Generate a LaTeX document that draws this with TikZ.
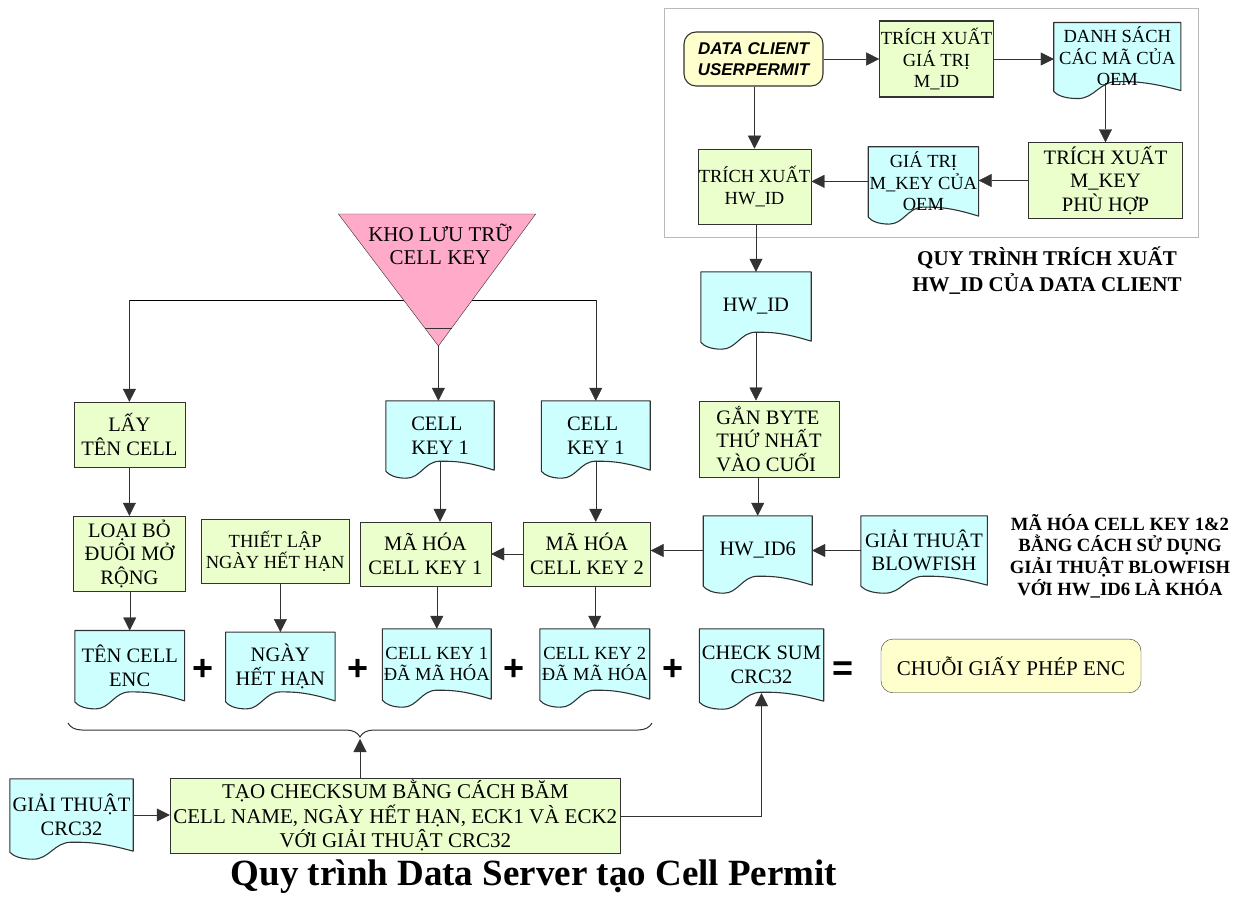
\documentclass[tikz,border=0pt]{standalone}
\usepackage{fontspec}
\setmainfont{Liberation Serif}
\newfontfamily\sansfam{Liberation Sans}
\usetikzlibrary{calc,arrows.meta,decorations.pathreplacing}

\definecolor{procfill}{RGB}{235,255,205}
\definecolor{docfill}{RGB}{205,255,255}
\definecolor{termfill}{RGB}{255,255,205}
\definecolor{storefill}{RGB}{255,170,200}
\definecolor{edge}{RGB}{50,50,50}

\pgfdeclarelayer{docs}
\pgfsetlayers{docs,main}

% document symbol: rectangle with a wavy lower edge, drawn behind the named node
\newcommand\docwave[1]{%
  \begin{pgfonlayer}{docs}
    \filldraw[draw=edge,fill=docfill,line width=1.1pt,line join=round]
      let \p1=(#1.north west), \p2=(#1.south east), \n1={\x2-\x1} in
      (\p1) -- (\x2,\y1) -- (\p2)
      .. controls ({\x1+0.74*\n1},{\y2+9pt}) and ({\x1+0.62*\n1},{\y2+9pt}) .. ({\x1+0.5*\n1},{\y2+9pt})
      .. controls ({\x1+0.36*\n1},{\y2+9pt}) and ({\x1+0.32*\n1},{\y2-8pt}) .. ({\x1+0.19*\n1},{\y2-8pt})
      .. controls ({\x1+0.09*\n1},{\y2-8pt}) and ({\x1+0.03*\n1},{\y2-5pt}) .. ({\x1},{\y2-1pt}) -- cycle;
  \end{pgfonlayer}}

\begin{document}
\begin{tikzpicture}[x=1pt,y=-1pt,line width=1.1pt,
  every node/.style={inner sep=1pt,align=center},
  tx/.style={font=\fontsize{20.5}{23.5}\selectfont},
  txs/.style={font=\fontsize{18.5}{21.5}\selectfont},
  arr/.style={draw=edge,-{Triangle[length=13pt,width=13pt]}},
  fromdoc/.style={shorten <=-8pt},
  todoc/.style={shorten >=-8pt},
  sized/.style 2 args={minimum width=#1,minimum height=#2},
  proc/.style={draw=edge,fill=procfill},
  docbox/.style={draw=none},
  term/.style={draw=edge,fill=termfill,rounded corners=12pt},
  opsign/.style={font=\sansfam\bfseries\fontsize{36}{36}\selectfont},
  heading/.style={font=\bfseries\fontsize{21}{26}\selectfont},
  notetext/.style={font=\bfseries\fontsize{18.7}{21.7}\selectfont}]

\useasboundingbox (0,0) rectangle (1237,910);

% ---------- client-side extraction group ----------
\draw[gray!55,line width=1pt] (664.5,8.3) rectangle (1198.7,237.7);

\node[term,sized={139}{54},font=\sansfam\bfseries\itshape\fontsize{17}{21.7}\selectfont]
  (dc) at (753.5,59) {DATA CLIENT\\USERPERMIT};
\node[proc,txs,sized={113}{76}] (txm) at (936.5,59) {TRÍCH XUẤT\\GIÁ TRỊ\\M\_ID};
\node[docbox,txs,sized={126}{67}] (dsm) at (1117.3,56.5) {DANH SÁCH\\CÁC MÃ CỦA\\OEM};
\docwave{dsm}
\node[proc,tx,sized={154}{76}] (txk) at (1105.5,180.5) {TRÍCH XUẤT\\M\_KEY\\PHÙ HỢP};
\node[docbox,txs,sized={110}{69}] (gtk) at (923.4,181.4) {GIÁ TRỊ\\M\_KEY CỦA\\OEM};
\docwave{gtk}
\node[proc,txs,sized={113}{75}] (txh) at (754.5,186.4) {TRÍCH XUẤT\\HW\_ID};

\node[heading] (cap) at (1047,271) {QUY TRÌNH TRÍCH XUẤT\\HW\_ID CỦA DATA CLIENT};

\draw[arr] (dc.east) -- (txm.west);
\draw[arr] (txm.east) -- (txm.east -| dsm.west);
\draw[arr,fromdoc] (dsm.south -| txk.north) -- (txk.north);
\draw[arr] (txh.north |- dc.south) -- (txh.north);
\draw[arr] (txk.west) -- (txk.west -| gtk.east);
\draw[arr] (gtk.west) -- (gtk.west -| txh.east);

% ---------- HW_ID preparation ----------
\node[docbox,tx,sized={110}{69}] (hwid) at (756,306.5) {HW\_ID};
\docwave{hwid}
\node[proc,tx,sized={140}{76},align=left] (gan) at (769,438.7) {GẮN BYTE\\THỨ NHẤT\\VÀO CUỐI};
\node[docbox,tx,sized={108.6}{69}] (hw6) at (757.7,550.5) {HW\_ID6};
\docwave{hw6}
\node[docbox,tx,sized={126}{69}] (bf) at (924.1,550.5) {GIẢI THUẬT\\BLOWFISH};
\docwave{bf}
\node[notetext] (note) at (1120,556)
  {MÃ HÓA CELL KEY 1\&2\\BẰNG CÁCH SỬ DỤNG\\GIẢI THUẬT BLOWFISH\\VỚI HW\_ID6 LÀ KHÓA};

\draw[arr] (hwid.north |- txh.south) -- (hwid.north);
\draw[arr,fromdoc] (hwid.south) -- (hwid.south |- gan.north);
\draw[arr] (hw6.north |- gan.south) -- (hw6.north);
\draw[arr] (bf.west) -- (bf.west -| hw6.east);

% ---------- cell key storage and encryption ----------
\coordinate (branch) at (438.4,300);
\coordinate (triapex) at (438.4,346);

\node[proc,tx,sized={111.3}{65.3}] (llay) at (129.4,434.7) {LẤY\\TÊN CELL};
\node[docbox,tx,sized={108}{69},align=left] (ck1) at (440,435.5) {CELL\\KEY 1};
\docwave{ck1}
\node[docbox,tx,sized={108.5}{69},align=left] (ck2) at (595.75,435.5) {CELL\\KEY 1};
\docwave{ck2}

\draw (llay.north |- branch) -- (ck2.north |- branch);
\draw[arr] (llay.north |- branch) -- (llay.north);
\draw[arr] (ck2.north |- branch) -- (ck2.north);

\filldraw[draw=edge,fill=storefill,line join=round] (338.4,214) -- (535.7,214) -- (triapex) -- cycle;
\draw[edge] (424.5,327.7) -- (451.9,327.7);
\node[tx,font=\fontsize{21}{23}\selectfont] (store) at (440,244.5) {KHO LƯU TRỮ\\CELL KEY};
\draw[arr] (triapex) -- (triapex |- ck1.north);

\node[proc,tx,sized={111.6}{75}] (lob) at (129.4,553.5) {LOẠI BỎ\\ĐUÔI MỞ\\RỘNG};
\node[proc,txs,sized={148.6}{64}] (tl) at (275.2,551.3) {THIẾT LẬP\\NGÀY HẾT HẠN};
\node[proc,tx,sized={131.2}{64}] (mk1) at (425.4,554) {MÃ HÓA\\CELL KEY 1};
\node[proc,tx,sized={126.8}{64}] (mk2) at (587,554) {MÃ HÓA\\CELL KEY 2};

\draw[arr] (llay.south) -- (llay.south |- lob.north);
\draw[arr,fromdoc] (ck1.south) -- (ck1.south |- mk1.north);
\draw[arr,fromdoc] (ck2.south) -- (ck2.south |- mk2.north);
\draw[arr] (hw6.west) -- (hw6.west -| mk2.east);
\draw[arr] (mk2.west) -- (mk2.west -| mk1.east);

% ---------- permit parts ----------
\node[docbox,tx,sized={109.4}{70}] (tce) at (129.7,665.7) {TÊN CELL\\ENC};
\docwave{tce}
\node[docbox,tx,sized={109}{68.4}] (nhh) at (280.35,666.5) {NGÀY\\HẾT HẠN};
\docwave{nhh}
\node[docbox,txs,sized={108.4}{70}] (ck1e) at (436.8,664) {CELL KEY 1\\ĐÃ MÃ HÓA};
\docwave{ck1e}
\node[docbox,txs,sized={109.5}{70}] (ck2e) at (594.75,664) {CELL KEY 2\\ĐÃ MÃ HÓA};
\docwave{ck2e}
\node[docbox,tx,sized={124}{72}] (cks) at (761.5,665) {CHECK SUM\\CRC32};
\docwave{cks}

\node[opsign] (p1) at (203,670) {+};
\node[opsign] (p2) at (358.5,670) {+};
\node[opsign] (p3) at (514.3,670) {+};
\node[opsign] (p4) at (672.6,670) {+};
\node[opsign] (eq) at (843.5,671) {=};
\node[term,tx,font=\fontsize{21}{23}\selectfont,sized={260}{53.7}] (chuoi) at (1011,665.9) {CHUỖI GIẤY PHÉP ENC};

\draw[arr] (tce.north |- lob.south) -- (tce.north);
\draw[arr] (nhh.north |- tl.south) -- (nhh.north);
\draw[arr] (ck1e.north |- mk1.south) -- (ck1e.north);
\draw[arr] (ck2e.north |- mk2.south) -- (ck2e.north);

% ---------- checksum ----------
\coordinate (braceL) at (68,723);
\coordinate (braceR) at (652,723);
\coordinate (bracetip) at (360,739);
\draw[edge,line width=1pt,decorate,decoration={brace,amplitude=14pt,mirror}] (braceL) -- (braceR);

\node[docbox,tx,sized={123}{72}] (crc) at (71.5,815) {GIẢI THUẬT\\CRC32};
\docwave{crc}
\node[proc,tx,sized={450.6}{75},font=\fontsize{21}{24.5}\selectfont] (tao) at (395.3,815.8)
  {TẠO CHECKSUM BẰNG CÁCH BĂM\\CELL NAME, NGÀY HẾT HẠN, ECK1 VÀ ECK2\\VỚI GIẢI THUẬT CRC32};

\draw[arr] (bracetip |- tao.north) -- (bracetip);
\draw[arr] (crc.east) -- (crc.east -| tao.west);
\draw[arr,todoc] (tao.east) -| (cks.south);

\node[font=\bfseries\fontsize{37}{40}\selectfont] (title) at (534,877) {Quy trình Data Server tạo Cell Permit};
\end{tikzpicture}
\end{document}
